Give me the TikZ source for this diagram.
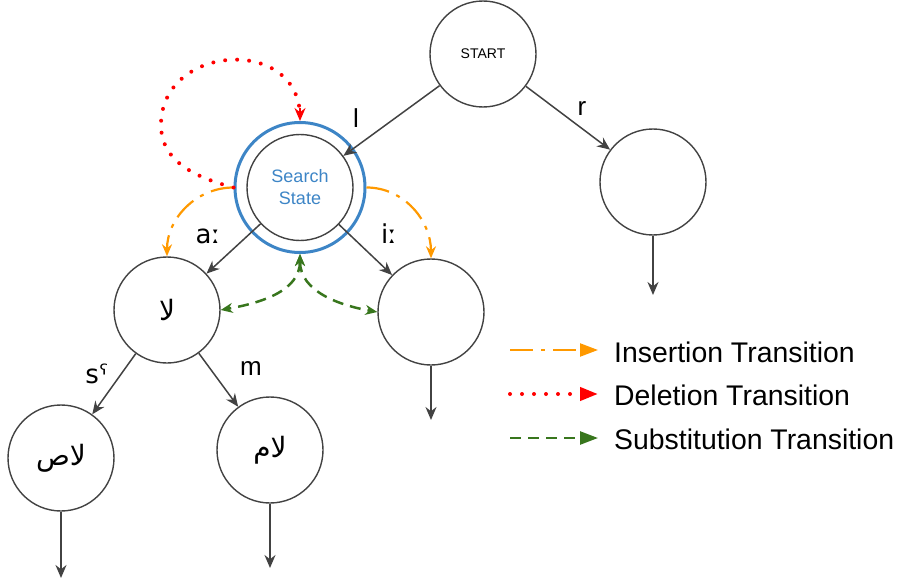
\documentclass[tikz,border=0pt]{standalone}
\usepackage{fontspec}
\setmainfont{Liberation Sans}
\newfontfamily\arabicfont[Script=Arabic]{DejaVu Sans}
\newfontfamily\ipafont{DejaVu Sans}
\TeXXeTstate=1
\usetikzlibrary{arrows.meta}
\definecolor{edgegray}{RGB}{66,66,66}
\definecolor{ringblue}{RGB}{61,133,198}
\definecolor{insorange}{RGB}{255,153,0}
\definecolor{subgreen}{RGB}{56,118,29}
\tikzset{
    state/.style={draw=edgegray, line width=1.4pt, circle, minimum size=106pt, inner sep=0pt},
    trans/.style={draw=edgegray, line width=1.5pt, -{Stealth[length=13pt,width=11pt]}},
    lbl/.style={font=\fontsize{26}{30}\selectfont, anchor=base},
    arab/.style={font=\fontsize{28}{32}\selectfont\arabicfont},
    insertion/.style={insorange, line width=2.2pt, dash pattern=on 23pt off 8pt on 4pt off 8pt},
    deletion/.style={red, line width=4pt, dash pattern=on 0pt off 12pt, line cap=round},
    substitution/.style={subgreen, line width=2.5pt, dash pattern=on 11pt off 7pt},
    legtext/.style={font=\fontsize{28.4}{32}\selectfont, anchor=west},
}
\begin{document}
\begin{tikzpicture}[x=1pt, y=1pt]
    \useasboundingbox (0,0) rectangle (898,-586);
    % States
    \node[state, font=\fontsize{14}{16}\selectfont] (start) at (483,-54) {START};
    \node[state, font=\fontsize{18}{22}\selectfont, text=ringblue, align=center] (search) at (300,-187.5) {Search\\State};
    \node[circle, draw=ringblue, line width=3pt, minimum size=130pt, inner sep=0pt] (ring) at (300,-187.5) {};
    \node[state] (rnode) at (653,-182) {};
    \node[state, arab] (la) at (167,-310) {\beginR لا\endR};
    \node[state] (rmid) at (431,-312) {};
    \node[state, arab] (las) at (61,-458) {\beginR لاص\endR};
    \node[state, arab] (lam) at (270,-450) {\beginR لام\endR};
    % Loose ends
    \coordinate (rend) at (653,-295);
    \coordinate (rmidend) at (431,-420);
    \coordinate (lasend) at (61,-578);
    \coordinate (lamend) at (270,-568);
    % Transitions
    \draw[trans] (start) -- (search);
    \draw[trans] (start) -- (rnode);
    \draw[trans] (search) -- (la);
    \draw[trans] (search) -- (rmid);
    \draw[trans] (la) -- (las);
    \draw[trans] (la) -- (lam);
    \draw[trans] (rnode) -- (rend);
    \draw[trans] (rmid) -- (rmidend);
    \draw[trans] (las) -- (lasend);
    \draw[trans] (lam) -- (lamend);
    % Labels
    \node[lbl] (lbll) at (356,-128) {l};
    \node[lbl] (lblr) at (582,-115) {r};
    \node[lbl, font=\fontsize{26}{30}\selectfont\ipafont] (lbla) at (208,-243) {aː};
    \node[lbl, font=\fontsize{26}{30}\selectfont\ipafont] (lbli) at (389,-243) {iː};
    \node[lbl, font=\fontsize{26}{30}\selectfont\ipafont] (lbls) at (97,-383) {sˤ};
    \node[lbl] (lblm) at (251,-375) {m};
    % Insertion
    \draw[insertion, -{Stealth[length=12pt,width=10pt]}] (ring.west) to[out=180, in=90] (la.north);
    \draw[insertion, -{Stealth[length=12pt,width=10pt]}] (ring.east) to[out=0, in=90] (rmid.north);
    % Deletion loop
    \coordinate (loop) at (161,-125);
    \draw[deletion] (ring.west) to[out=165, in=-90] (loop) to[out=90, in=90, looseness=1.5] ([yshift=4pt]ring.north);
    \draw[red, line width=1.5pt, -{Stealth[length=13pt,width=11pt]}] (300,-108) -- (ring.north);
    % Substitution
    \draw[substitution, {Stealth[length=12pt,width=10pt]}-{Stealth[length=12pt,width=10pt]}] (ring.south) to[out=-90, in=10] (la.east);
    \draw[substitution, {Stealth[length=12pt,width=10pt]}-{Stealth[length=12pt,width=10pt]}] (ring.south) to[out=-90, in=170] (rmid.west);
    % Legend
    \coordinate (insa) at (510,-350);
    \coordinate (insb) at (598,-350);
    \coordinate (dela) at (510,-394);
    \coordinate (delb) at (598,-394);
    \coordinate (suba) at (510,-438);
    \coordinate (subb) at (598,-438);
    \draw[insertion, -{Triangle[length=18pt,width=13pt]}] (insa) -- (insb);
    \draw[deletion, -{Triangle[length=18pt,width=13pt]}] (dela) -- (delb);
    \draw[substitution, -{Triangle[length=18pt,width=13pt]}] (suba) -- (subb);
    \node[legtext, inner sep=0pt] (insl) at (614,-352) {Insertion Transition};
    \node[legtext, inner sep=0pt] (dell) at (614,-395) {Deletion Transition};
    \node[legtext, inner sep=0pt] (subl) at (614,-439) {Substitution Transition};
\end{tikzpicture}
\end{document}
